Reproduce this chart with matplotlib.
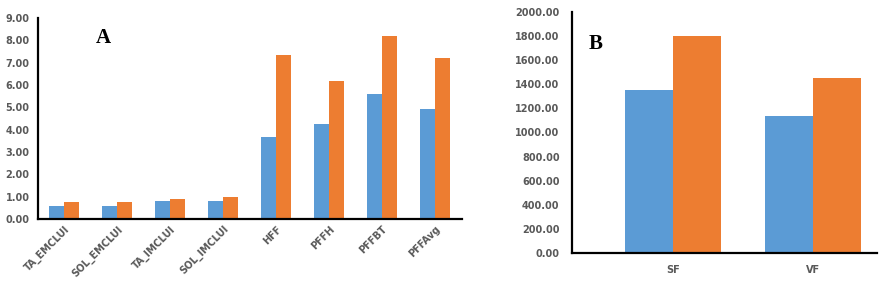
import numpy as np
import matplotlib
matplotlib.use("Agg")
import matplotlib.pyplot as plt

# Panel A data
cats_a = ["TA_EMCLUI", "SOL_EMCLUI", "TA_IMCLUI", "SOL_IMCLUI", "HFF", "PFFH", "PFFBT", "PFFAvg"]
blue_a = [0.59, 0.60, 0.81, 0.81, 3.68, 4.26, 5.60, 4.93]
orange_a = [0.77, 0.78, 0.90, 0.99, 7.35, 6.19, 8.20, 7.22]
yticks_a = [0, 1, 2, 3, 4, 5, 6, 7, 8, 9]

# Panel B data
cats_b = ["SF", "VF"]
blue_b = [1353, 1137]
orange_b = [1801, 1452]
yticks_b = [0, 200, 400, 600, 800, 1000, 1200, 1400, 1600, 1800, 2000]

BLUE = "#5B9BD5"
ORANGE = "#ED7D31"
TXT = "#595959"

fig = plt.figure(figsize=(8.83, 2.85), dpi=100)


def style(ax, ypad):
    for s in ["top", "right"]:
        ax.spines[s].set_visible(False)
    ax.spines["left"].set_linewidth(1.6)
    ax.spines["bottom"].set_linewidth(1.6)
    ax.tick_params(length=0, labelsize=7, labelcolor=TXT)
    ax.tick_params(axis="y", pad=ypad)
    for lab in ax.get_yticklabels() + ax.get_xticklabels():
        lab.set_fontweight("bold")


# Panel A
ax1 = fig.add_axes([0.043, 0.2316, 0.48, 0.7054])
x = np.arange(len(cats_a))
w = 0.283
ax1.bar(x - w / 2, blue_a, w, color=BLUE)
ax1.bar(x + w / 2, orange_a, w, color=ORANGE)
ax1.set_xlim(-0.5, len(cats_a) - 0.5)
ax1.set_ylim(0, 9)
ax1.set_yticks(yticks_a)
ax1.set_yticklabels([f"{v:.2f}" for v in yticks_a])
ax1.set_xticks(x)
ax1.set_xticklabels(cats_a, rotation=45, ha="right", rotation_mode="anchor")
style(ax1, 6)
ax1.text(0.155, 0.9, "A", transform=ax1.transAxes, fontsize=15, fontweight="bold",
         family="Liberation Serif", ha="center", va="center")

# Panel B
ax2 = fig.add_axes([0.6478, 0.1123, 0.3454, 0.8457])
xb = np.arange(len(cats_b))
wb = 0.343
ax2.bar(xb - wb / 2, blue_b, wb, color=BLUE)
ax2.bar(xb + wb / 2, orange_b, wb, color=ORANGE)
ax2.set_xlim(-0.72, 1.46)
ax2.set_ylim(0, 2000)
ax2.set_yticks(yticks_b)
ax2.set_yticklabels([f"{v:.2f}" for v in yticks_b])
ax2.set_xticks(xb)
ax2.set_xticklabels(cats_b)
style(ax2, 9)
ax2.tick_params(axis="x", pad=9)
ax2.text(0.078, 0.868, "B", transform=ax2.transAxes, fontsize=15, fontweight="bold",
         family="Liberation Serif", ha="center", va="center")

fig.savefig("out.png", dpi=100)
